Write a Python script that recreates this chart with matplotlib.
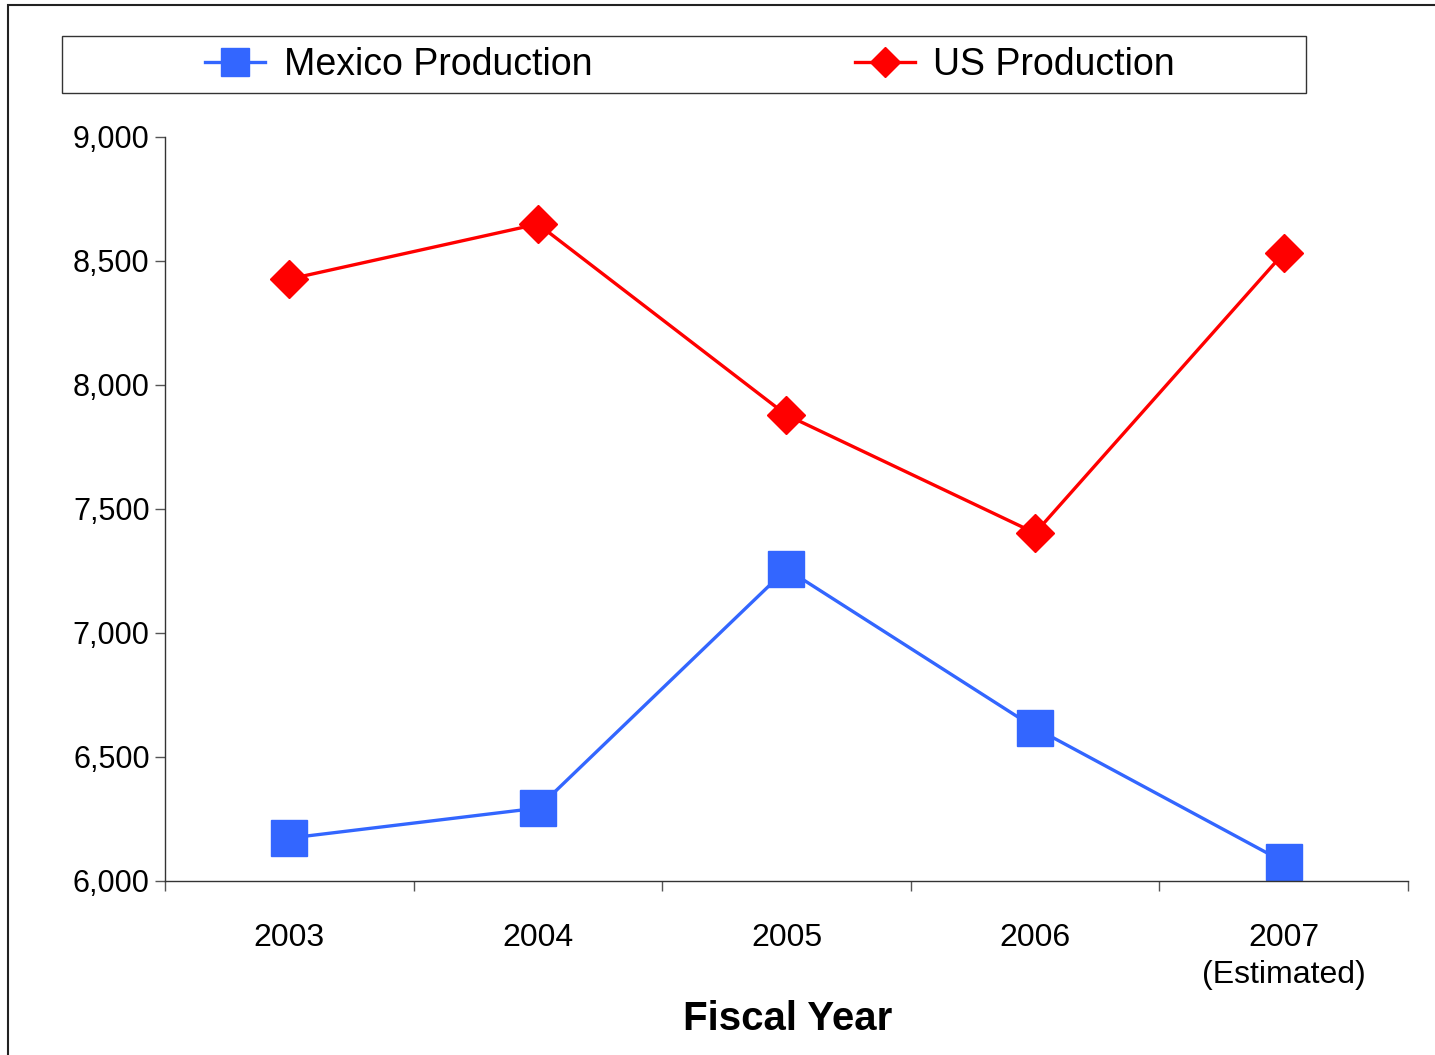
import numpy as np
import matplotlib.pyplot as plt
from matplotlib.lines import Line2D
from matplotlib.patches import Rectangle
from matplotlib.ticker import FuncFormatter

plt.rcParams['font.family'] = ['Liberation Sans', 'DejaVu Sans']

years = ["2003", "2004", "2005", "2006", "2007\n(Estimated)"]
mexico = [6173, 6294, 7258, 6617, 6077]
us = [8427, 8649, 7879, 7403, 8532]

W, H = 1435, 1055
fig = plt.figure(figsize=(W / 100, H / 100), dpi=100)
ax = fig.add_axes([165 / W, 1 - 881 / H, (1408 - 165) / W, (881 - 137) / H])

x = np.arange(len(years))
blue = "#3366FF"
red = "#FF0000"
ax.plot(x, mexico, color=blue, lw=2.4, marker="s", ms=26, mec=blue, mfc=blue, clip_on=False)
ax.plot(x, us, color=red, lw=2.4, marker="D", ms=19, mec=red, mfc=red, clip_on=False)

ax.set_xlim(-0.5, len(years) - 0.5)
ax.set_ylim(6000, 9000)
ax.set_yticks(np.arange(6000, 9001, 500))
ax.yaxis.set_major_formatter(FuncFormatter(lambda v, p: f"{int(v):,}"))

ax.set_xticks(np.arange(-0.5, len(years), 1.0))
ax.set_xticklabels([])
ax.set_xticks(x, minor=True)
ax.set_xticklabels(years, minor=True, fontsize=23, linespacing=1.3)
ax.tick_params(axis="x", which="minor", length=0, pad=30)
ax.tick_params(axis="x", which="major", length=7, width=1, color="#555555")
ax.tick_params(axis="y", length=7, width=1, color="#555555", labelsize=22, pad=4)

for s in ["top", "right"]:
    ax.spines[s].set_visible(False)
for s in ["left", "bottom"]:
    ax.spines[s].set_color("#333333")
    ax.spines[s].set_linewidth(1)

fig.text(788 / W, 1 - 1019 / H, "Fiscal Year", fontsize=29, fontweight="bold",
         ha="center", va="center")

# legend box
fig.patches.append(Rectangle((62 / W, 1 - 93 / H), (1306 - 62) / W, (93 - 36) / H,
                             transform=fig.transFigure, fill=False, ec="#333333", lw=1))
handles = [Line2D([], [], color=blue, lw=2.4, marker="s", ms=20),
           Line2D([], [], color=red, lw=2.4, marker="D", ms=15)]
fig.legend(handles, ["Mexico Production", "US Production"], ncol=2, frameon=False,
           loc="center", bbox_to_anchor=(690 / W, 1 - 65 / H), fontsize=27,
           columnspacing=7.0, handlelength=1.6, handletextpad=0.5)

# outer frame
fig.patches.append(Rectangle((8 / W, -0.01), 1.05, 1 - 5 / H + 0.01,
                             transform=fig.transFigure, fill=False, ec="#222222", lw=1.5))

fig.savefig("out.png", dpi=100)
